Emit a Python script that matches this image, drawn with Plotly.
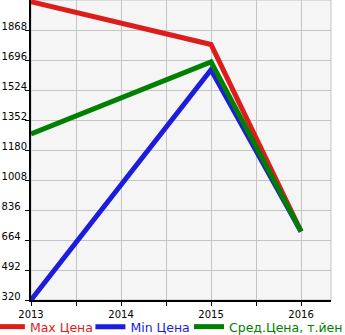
import plotly.graph_objects as go

years = [2013, 2015, 2016]
max_price = [2030, 1785, 713]
min_price = [320, 1640, 713]
avg_price = [1272, 1685, 713]

y_ticks = [320, 492, 664, 836, 1008, 1180, 1352, 1524, 1696, 1868]
y_labels = [str(v) if v >= 1000 else str(v) + "\u00a0\u00a0" for v in y_ticks]
x_ticks = [2013, 2014, 2015, 2016]

fig = go.Figure()
series = [
    ("Max Цена", max_price, "#dd1c1c", "legend", -0.137),
    ("Min Цена", min_price, "#1c1cdc", "legend2", 0.198),
    ("Сред.Цена, т.йен", avg_price, "#008000", "legend3", 0.5267),
]
legend_cfg = {}
for name, vals, col, leg, lx in series:
    fig.add_trace(go.Scatter(
        x=years, y=vals, mode="lines",
        name=f"<span style='color:{col}'>{name}</span>",
        line=dict(color=col, width=5), legend=leg,
    ))
    legend_cfg[leg] = dict(
        orientation="h", x=lx, xanchor="left", y=-42 / 300, yanchor="bottom",
        font=dict(size=12.5), itemwidth=30, bgcolor="rgba(0,0,0,0)",
    )

fig.update_layout(
    width=345, height=335,
    margin=dict(l=31, r=14, t=0, b=35, autoexpand=False),
    paper_bgcolor="white",
    plot_bgcolor="#f5f5f5",
    font=dict(family="DejaVu Sans", size=10, color="black"),
    showlegend=True,
    **legend_cfg,
    xaxis=dict(
        range=[2013, 2016.333], tickvals=x_ticks, ticktext=[str(v) for v in x_ticks],
        showgrid=True, gridcolor="#c4c4c4", gridwidth=1,
        ticks="outside", ticklen=4, tickcolor="black",
        minor=dict(dtick=0.5, tick0=2013, showgrid=True, gridcolor="#c4c4c4",
                   ticks="outside", ticklen=4, tickcolor="black"),
        showline=True, linecolor="black", linewidth=2,
        zeroline=False, fixedrange=True,
    ),
    yaxis=dict(
        range=[320, 2040], tickvals=y_ticks, ticktext=y_labels,
        showgrid=True, gridcolor="#c4c4c4", gridwidth=1,
        ticks="outside", ticklen=4, tickcolor="black",
        ticklabelshift=-4, ticklabelstandoff=-4,
        showline=True, linecolor="black", linewidth=2,
        zeroline=False, fixedrange=True,
    ),
    shapes=[dict(type="rect", xref="paper", yref="paper", x0=0, x1=1, y0=0, y1=1,
                 line=dict(color="#c4c4c4", width=1), layer="below")],
)

fig.write_html("out.html")
